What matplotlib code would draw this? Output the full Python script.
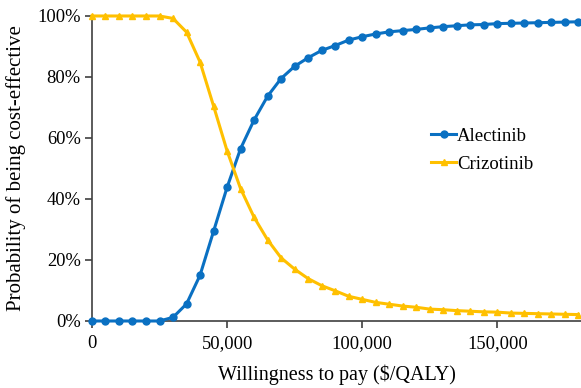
import matplotlib.pyplot as plt
from matplotlib.ticker import FuncFormatter

plt.rcParams['font.family'] = ['Liberation Serif', 'DejaVu Serif']

# willingness-to-pay thresholds ($/QALY)
wtp = list(range(0, 180001, 5000))

alectinib = [0.0, 0.0, 0.0, 0.0, 0.0, 0.0, 0.012, 0.056, 0.150, 0.294,
             0.438, 0.565, 0.659, 0.737, 0.795, 0.835, 0.863, 0.887, 0.903,
             0.921, 0.932, 0.941, 0.948, 0.952, 0.956, 0.961, 0.965, 0.968,
             0.971, 0.972, 0.975, 0.976, 0.977, 0.978, 0.979, 0.980, 0.981]

crizotinib = [1.0, 1.0, 1.0, 1.0, 1.0, 1.0, 0.992, 0.947, 0.849, 0.705,
              0.558, 0.434, 0.340, 0.266, 0.207, 0.170, 0.139, 0.116, 0.099,
              0.081, 0.071, 0.061, 0.055, 0.049, 0.045, 0.039, 0.037, 0.034,
              0.032, 0.030, 0.029, 0.026, 0.025, 0.024, 0.023, 0.022, 0.021]

BLUE = '#0A70C2'
YELLOW = '#FFC000'

fig = plt.figure(figsize=(5.81, 3.88), dpi=100)
ax = fig.add_axes([0.1583, 0.1727, 0.8417, 0.7861])

ax.plot(wtp, alectinib, color=BLUE, lw=2.2, marker='o', ms=5,
        label='Alectinib', clip_on=False, zorder=3)
ax.plot(wtp, crizotinib, color=YELLOW, lw=2.2, marker='^', ms=5,
        label='Crizotinib', clip_on=False, zorder=3)

ax.set_xlim(0, 181000)
ax.set_ylim(0, 1)
ax.set_xticks([0, 50000, 100000, 150000])
ax.set_yticks([0, 0.2, 0.4, 0.6, 0.8, 1.0])
ax.xaxis.set_major_formatter(FuncFormatter(lambda v, p: f'{int(v):,}'))
ax.yaxis.set_major_formatter(FuncFormatter(lambda v, p: f'{v:.0%}'))

for s in ['top', 'right']:
    ax.spines[s].set_visible(False)
for s in ['left', 'bottom']:
    ax.spines[s].set_color('#404040')
    ax.spines[s].set_linewidth(1.2)

ax.tick_params(axis='both', direction='out', length=5, width=1.2,
               color='#404040', labelsize=13.3, pad=3)
ax.tick_params(axis='x', pad=5)

ax.set_xlabel('Willingness to pay ($/QALY)', fontsize=14.5, labelpad=9)
ax.set_ylabel('Probability of being cost-effective', fontsize=15, labelpad=8)

ax.legend(loc='upper left', bbox_to_anchor=(0.675, 0.665), frameon=False,
          fontsize=13.5, handlelength=1.3, handletextpad=0.05,
          labelspacing=0.6, borderpad=0)

fig.savefig('out.png', dpi=100)
